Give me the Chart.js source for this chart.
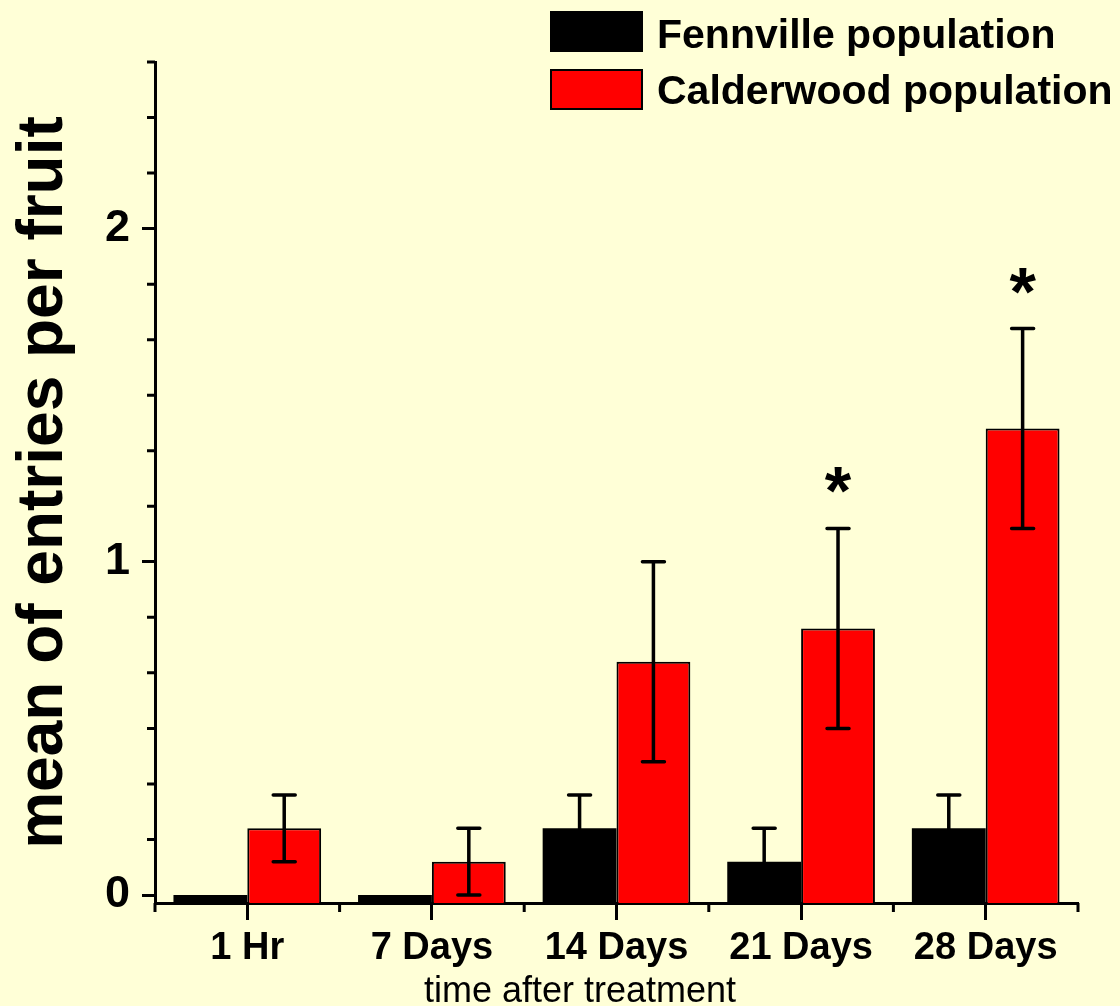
<!DOCTYPE html>
<html>
<head>
<meta charset="utf-8">
<script src="https://cdn.jsdelivr.net/npm/chart.js@4.4.1/dist/chart.umd.min.js"></script>
<style>
  html, body { margin: 0; padding: 0; background: #ffffd7; }
  canvas { display: block; }
</style>
</head>
<body>
<canvas id="myChart" width="1120" height="1006"></canvas>
<script>
// data
const categories = ['1 Hr', '7 Days', '14 Days', '21 Days', '28 Days'];
const fennville = [0, 0, 0.2, 0.1, 0.2];
const fennvilleErr = [0, 0, 0.1, 0.1, 0.1];
const calderwood = [0.2, 0.1, 0.7, 0.8, 1.4];
const calderwoodErr = [0.1, 0.1, 0.3, 0.3, 0.3];
const significant = [false, false, false, true, true];
const yMajorTicks = [0, 1, 2];
const yMin = -0.024;
const yMax = 2.5;
const xTitle = 'time after treatment';
const yTitle = 'mean of entries per fruit';

const FONT = '"Liberation Sans", Arial, sans-serif';
const BG = '#ffffd7';

const background = {
  id: 'background',
  beforeDraw(chart) {
    const ctx = chart.ctx;
    ctx.save();
    ctx.fillStyle = BG;
    ctx.fillRect(0, 0, chart.width, chart.height);
    ctx.restore();
  }
};

// error bars + significance stars
const errorBars = {
  id: 'errorBars',
  afterDatasetsDraw(chart) {
    const ctx = chart.ctx;
    const y = chart.scales.y;
    ctx.save();
    ctx.strokeStyle = '#000';
    ctx.lineWidth = 3.5;
    ctx.lineCap = 'round';
    chart.data.datasets.forEach((ds, di) => {
      chart.getDatasetMeta(di).data.forEach((bar, i) => {
        const e = ds.errors[i];
        if (!e) return;
        const top = y.getPixelForValue(ds.data[i] + e);
        const bot = y.getPixelForValue(ds.data[i] - e);
        ctx.beginPath();
        ctx.moveTo(bar.x, top);
        ctx.lineTo(bar.x, bot);
        ctx.moveTo(bar.x - 11, top);
        ctx.lineTo(bar.x + 11, top);
        ctx.moveTo(bar.x - 11, bot);
        ctx.lineTo(bar.x + 11, bot);
        ctx.stroke();
        if (ds.stars && ds.stars[i]) {
          ctx.fillStyle = '#000';
          ctx.font = 'bold 68px ' + FONT;
          ctx.textAlign = 'center';
          ctx.textBaseline = 'alphabetic';
          ctx.fillText('*', bar.x, top - 14);
        }
      });
    });
    ctx.restore();
  }
};

// minor ticks, legend and x title
const extras = {
  id: 'extras',
  afterDraw(chart) {
    const ctx = chart.ctx;
    const x = chart.scales.x, y = chart.scales.y;
    const area = chart.chartArea;
    ctx.save();
    ctx.strokeStyle = '#000';
    ctx.lineWidth = 3;
    ctx.beginPath();
    for (let k = 1; k <= 15; k++) {
      if (k % 6 === 0) continue;
      const py = y.getPixelForValue(k / 6);
      ctx.moveTo(area.left - 8, py);
      ctx.lineTo(area.left, py);
    }
    const half = (x.getPixelForValue(1) - x.getPixelForValue(0)) / 2;
    for (let i = 0; i <= categories.length; i++) {
      const px = x.getPixelForValue(i) - half;
      ctx.moveTo(px, area.bottom);
      ctx.lineTo(px, area.bottom + 9);
    }
    ctx.stroke();

    // legend
    chart.data.datasets.forEach((ds, i) => {
      const top = 11 + i * 58;
      ctx.fillStyle = ds.backgroundColor;
      ctx.fillRect(550, top, 93, 41);
      ctx.lineWidth = 2;
      ctx.strokeRect(551, top + 1, 91, 39);
      ctx.fillStyle = '#000';
      ctx.font = 'bold 41px ' + FONT;
      ctx.textAlign = 'left';
      ctx.textBaseline = 'alphabetic';
      ctx.fillText(ds.label, 657, 48 + i * 56);
    });

    ctx.font = '36px ' + FONT;
    ctx.textAlign = 'center';
    ctx.fillText(xTitle, 580, 1002);
    ctx.restore();
  }
};

const ctx = document.getElementById('myChart');

new Chart(ctx, {
  type: 'bar',
  data: {
    labels: categories,
    datasets: [{
      label: 'Fennville population',
      data: fennville,
      errors: fennvilleErr,
      backgroundColor: '#000000',
      borderColor: '#000000',
      borderWidth: 0,
      base: yMin
    }, {
      label: 'Calderwood population',
      data: calderwood,
      errors: calderwoodErr,
      stars: significant,
      backgroundColor: '#ff0000',
      borderColor: '#000000',
      borderWidth: 2,
      base: yMin
    }]
  },
  options: {
    responsive: false,
    animation: false,
    devicePixelRatio: 1,
    layout: { padding: { top: 62, right: 42, left: 0, bottom: 0 } },
    categoryPercentage: 0.8,
    barPercentage: 1.0,
    plugins: {
      legend: { display: false },
      tooltip: { enabled: false }
    },
    scales: {
      x: {
        grid: { display: true, drawOnChartArea: false, offset: false, tickLength: 17, tickWidth: 3, tickColor: '#000' },
        border: { color: '#000', width: 3 },
        ticks: { color: '#000', padding: 6, maxRotation: 0, font: { family: FONT, size: 38, weight: 'bold' } },
        afterFit(scale) { scale.height = 103; }
      },
      y: {
        min: yMin,
        max: yMax,
        afterBuildTicks(scale) { scale.ticks = yMajorTicks.map(v => ({ value: v })); },
        grid: { display: true, drawOnChartArea: false, tickLength: 13, tickWidth: 3, tickColor: '#000' },
        border: { color: '#000', width: 3 },
        ticks: { color: '#000', padding: 12, font: { family: FONT, size: 45, weight: 'bold' } },
        title: {
          display: true,
          text: yTitle,
          color: '#000',
          padding: { top: 12, bottom: 0 },
          font: { family: FONT, size: 64, weight: 'bold', lineHeight: 1 }
        },
        afterFit(scale) { scale.width = 155; }
      }
    }
  },
  plugins: [background, errorBars, extras]
});
</script>
</body>
</html>
